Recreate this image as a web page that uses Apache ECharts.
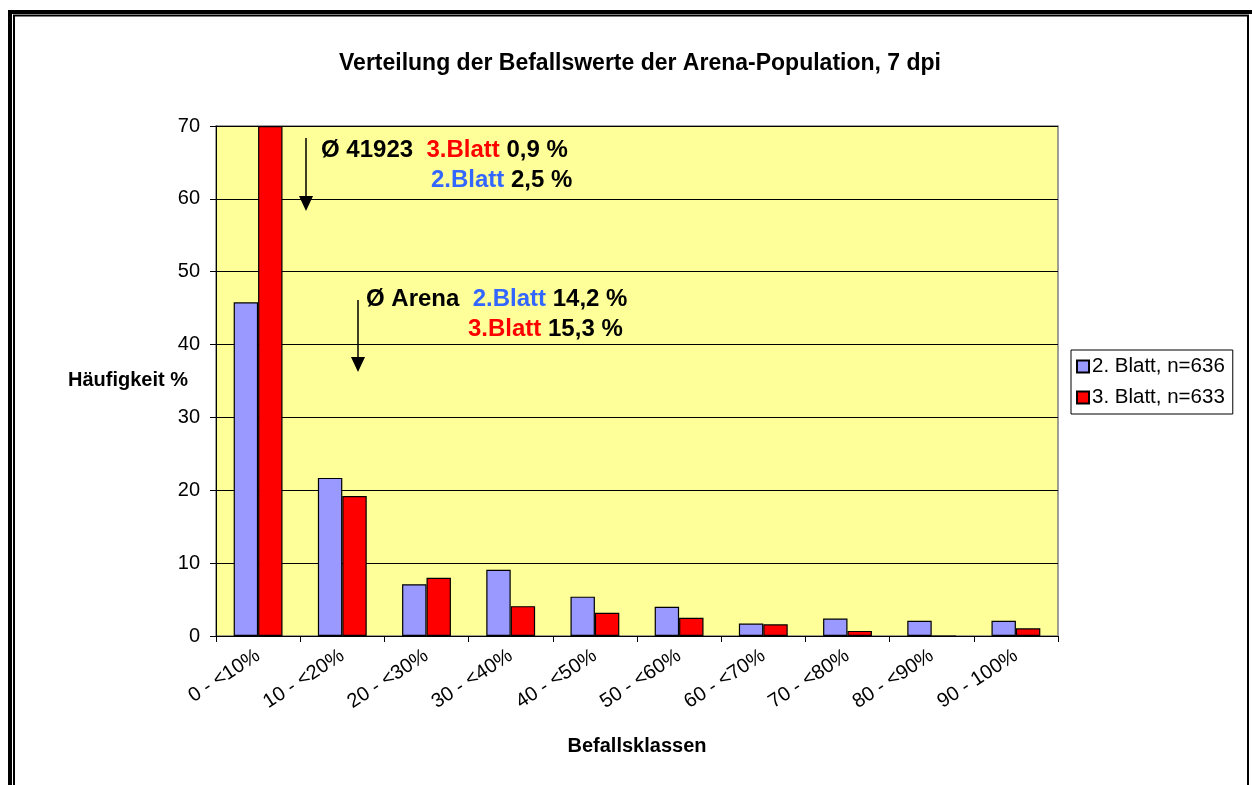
<!DOCTYPE html>
<html>
<head>
<meta charset="utf-8">
<script src="https://cdn.jsdelivr.net/npm/echarts@6/dist/echarts.min.js"></script>
<style>
  html, body { margin: 0; padding: 0; background: #fff; }
  #chart { width: 1252px; height: 785px; }
</style>
</head>
<body>
<div id="chart"></div>
<script>
// Befallsklassen (x categories)
const classes = ['0 - <10%', '10 - <20%', '20 - <30%', '30 - <40%', '40 - <50%',
  '50 - <60%', '60 - <70%', '70 - <80%', '80 - <90%', '90 - 100%']
// Häufigkeit % je Klasse
const blatt2 = [45.8, 21.7, 7.1, 9.1, 5.4, 4.0, 1.7, 2.4, 2.1, 2.1]
const blatt3 = [70.0, 19.2, 8.0, 4.1, 3.2, 2.5, 1.6, 0.7, 0.0, 1.05]
const seriesNames = ['2. Blatt, n=636', '3. Blatt, n=633']
const yTicks = { min: 0, max: 70, interval: 10 }

const font = 'Arial, "Liberation Sans", sans-serif'
const chart = echarts.init(document.getElementById('chart'))

const noteStyle = {
  b: { fontSize: 24, fontWeight: 'bold', fill: '#000', fontFamily: font },
  r: { fontSize: 24, fontWeight: 'bold', fill: '#ff0000', fontFamily: font },
  bl: { fontSize: 24, fontWeight: 'bold', fill: '#3366ff', fontFamily: font }
}

function note(x, y, text) {
  return {
    type: 'text', left: x, top: y,
    style: { text: text, rich: noteStyle, font: 'bold 24px ' + font }
  }
}

function arrow(x, y1, y2) {
  return [
    { type: 'line', shape: { x1: x, y1: y1, x2: x, y2: y2 - 10 }, style: { stroke: '#000', lineWidth: 1.5 } },
    { type: 'polygon', shape: { points: [[x - 7, y2 - 15], [x + 7, y2 - 15], [x, y2]] }, style: { fill: '#000' } }
  ]
}

chart.setOption({
  animation: false,
  backgroundColor: '#fff',
  title: {
    text: 'Verteilung der Befallswerte der Arena-Population, 7 dpi',
    left: 635, top: 47, textAlign: 'center',
    textStyle: { fontSize: 23, fontWeight: 'bold', color: '#000', fontFamily: font }
  },
  grid: {
    left: 216, right: 194, top: 126, bottom: 149,
    show: true, backgroundColor: '#ffff99', borderColor: '#808080', borderWidth: 1.5
  },
  legend: {
    orient: 'vertical', left: 1071, top: 350,
    backgroundColor: '#fff', borderColor: '#000', borderWidth: 1,
    padding: [6, 8, 6, 5], itemGap: 10,
    icon: 'rect', itemWidth: 12, itemHeight: 12,
    textStyle: { fontSize: 20.5, color: '#000', fontFamily: font, padding: [0, 0, 0, -2] },
    data: seriesNames
  },
  xAxis: {
    type: 'category', data: classes,
    name: 'Befallsklassen', nameLocation: 'middle', nameGap: 100,
    nameTextStyle: { fontSize: 20, fontWeight: 'bold', color: '#000', fontFamily: font },
    axisLine: { lineStyle: { color: '#000', width: 1 } },
    axisTick: { show: true, length: 6, lineStyle: { color: '#000' } },
    axisLabel: { rotate: 33, fontSize: 20, color: '#000', fontFamily: font, margin: 18 }
  },
  yAxis: {
    type: 'value', min: yTicks.min, max: yTicks.max, interval: yTicks.interval,
    axisLine: { show: true, lineStyle: { color: '#000', width: 1 } },
    axisTick: { show: true, length: 6, lineStyle: { color: '#000' } },
    axisLabel: { fontSize: 20, color: '#000', fontFamily: font, margin: 16 },
    splitLine: { lineStyle: { color: '#000', width: 1 } }
  },
  series: [
    {
      name: seriesNames[0], type: 'bar', data: blatt2,
      barGap: '0%', barCategoryGap: '42%',
      itemStyle: { color: '#9999ff', borderColor: '#000', borderWidth: 1.2 }
    },
    {
      name: seriesNames[1], type: 'bar', data: blatt3,
      itemStyle: { color: '#ff0000', borderColor: '#000', borderWidth: 1.2 }
    }
  ],
  graphic: [
    { type: 'rect', shape: { x: 10, y: 12, width: 1400, height: 1000 }, style: { fill: null, stroke: '#000', lineWidth: 4 } },
    { type: 'rect', shape: { x: 14, y: 15.5, width: 1234, height: 1000 }, style: { fill: null, stroke: '#000', lineWidth: 2 } },
    // y axis name, horizontal like in the original
    { type: 'text', left: 68, top: 370, style: { text: 'Häufigkeit %', font: 'bold 20px ' + font, fill: '#000' } },
    ...arrow(306, 138, 211),
    ...arrow(358, 300, 372),
    note(321, 138, '{b|Ø 41923}  {r|3.Blatt} {b|0,9 %}'),
    note(431, 168, '{bl|2.Blatt} {b|2,5 %}'),
    note(366, 287, '{b|Ø Arena}  {bl|2.Blatt} {b|14,2 %}'),
    note(468, 317, '{r|3.Blatt} {b|15,3 %}')
  ]
})
</script>
</body>
</html>
